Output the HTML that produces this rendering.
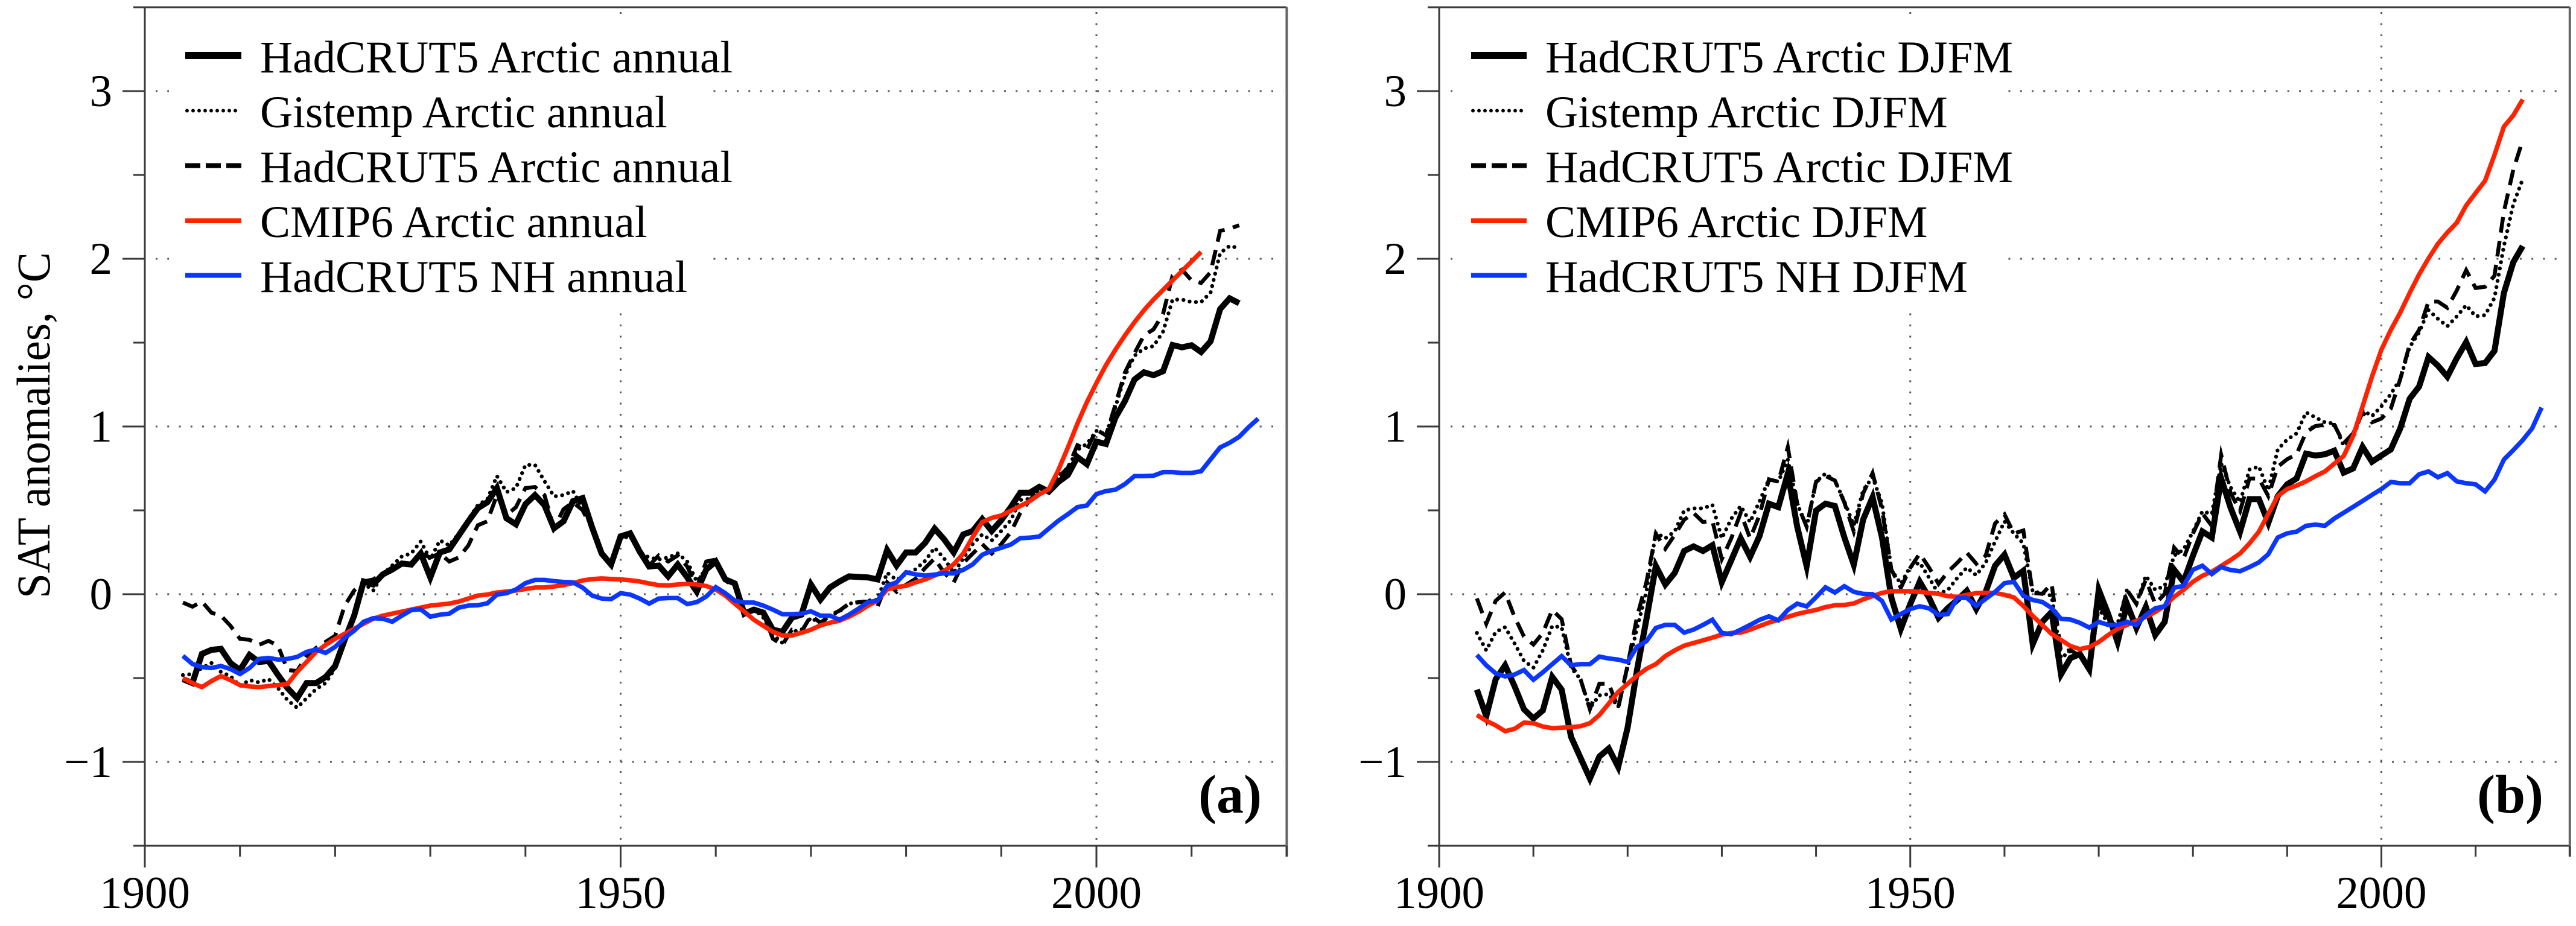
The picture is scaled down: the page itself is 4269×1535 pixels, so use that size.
<!DOCTYPE html>
<html lang="en">
<head>
<meta charset="utf-8">
<title>SAT anomalies chart</title>
<style>
html,body{margin:0;padding:0;background:#fff;}
svg{display:block;}
text{font-family:"Liberation Serif",serif;fill:#000;}
.lg{font-size:75px;}
</style>
</head>
<body>
<svg id="chart" xmlns="http://www.w3.org/2000/svg" width="4269" height="1535" viewBox="0 0 4269 1535">
  <rect x="0" y="0" width="4269" height="1535" fill="#fff"/>
  <g id="panel-a"></g>
  <g id="panel-b"></g>

  <text transform="translate(82,705) rotate(-90)" text-anchor="middle" font-size="78" textLength="574" lengthAdjust="spacingAndGlyphs">SAT anomalies, °C</text>

  <g id="legend-a">
    <rect x="280" y="30" width="898" height="485" fill="#fff"/>
    <line x1="307" x2="400" y1="92" y2="92" stroke="#000" stroke-width="12"/>
    <text class="lg" x="431" y="120">HadCRUT5 Arctic annual</text>
    <line x1="310" x2="400" y1="183.5" y2="183.5" stroke="#000" stroke-width="6" stroke-linecap="round" stroke-dasharray="0 10"/>
    <text class="lg" x="431" y="211">Gistemp Arctic annual</text>
    <line x1="307" x2="400" y1="274.5" y2="274.5" stroke="#000" stroke-width="8" stroke-dasharray="25 9"/>
    <text class="lg" x="431" y="302">HadCRUT5 Arctic annual</text>
    <line x1="307" x2="400" y1="366" y2="366" stroke="#ff2200" stroke-width="8"/>
    <text class="lg" x="431" y="393">CMIP6 Arctic annual</text>
    <line x1="307" x2="400" y1="456.5" y2="456.5" stroke="#0a36ff" stroke-width="8"/>
    <text class="lg" x="431" y="484">HadCRUT5 NH annual</text>
  </g>

  <g id="legend-b">
    <rect x="2412" y="30" width="902" height="485" fill="#fff"/>
    <line x1="2438" x2="2530" y1="92" y2="92" stroke="#000" stroke-width="12"/>
    <text class="lg" x="2561" y="120">HadCRUT5 Arctic DJFM</text>
    <line x1="2441" x2="2530" y1="183.5" y2="183.5" stroke="#000" stroke-width="6" stroke-linecap="round" stroke-dasharray="0 10"/>
    <text class="lg" x="2561" y="211">Gistemp Arctic DJFM</text>
    <line x1="2438" x2="2530" y1="274.5" y2="274.5" stroke="#000" stroke-width="8" stroke-dasharray="25 9"/>
    <text class="lg" x="2561" y="302">HadCRUT5 Arctic DJFM</text>
    <line x1="2438" x2="2530" y1="366" y2="366" stroke="#ff2200" stroke-width="8"/>
    <text class="lg" x="2561" y="393">CMIP6 Arctic DJFM</text>
    <line x1="2438" x2="2530" y1="456.5" y2="456.5" stroke="#0a36ff" stroke-width="8"/>
    <text class="lg" x="2561" y="484">HadCRUT5 NH DJFM</text>
  </g>

  <text x="2091" y="1347" text-anchor="end" font-size="90" font-weight="bold">(a)</text>
  <text x="4215" y="1347" text-anchor="end" font-size="90" font-weight="bold">(b)</text>
</svg>

<script>
const firstYear = 1904;
const yTickLabels = ['\u22121', '0', '1', '2', '3'];
const yMajorValues = [-1, 0, 1, 2, 3];
const yMinorValues = [-1.5, -0.5, 0.5, 1.5, 2.5, 3.5];
const xMajorYears = [1900, 1950, 2000];
const xMinorYears = [1910, 1920, 1930, 1940, 1960, 1970, 1980, 1990, 2010, 2020];

const hadcrutAnnual = [
-.506,-.53,-.356,-.332,-.326,-.41,-.452,-.362,-.404,-.398,-.482,-.56,-.62,-.53,-.53,-.494,-.428,-.272,-.128,.076,.058,.118,.147,.183,.177,.243,.1,.249,.267,.351,.435,.513,.549,.633,.453,.417,.537,.591,.531,
.393,.435,.555,.573,.399,.243,.177,.345,.363,.255,.165,.171,.106,.177,.1,.016,.147,.195,.088,.064,-.116,-.092,-.11,-.212,-.224,-.14,-.122,.058,-.032,.04,.076,.106,.103,.1,.088,
.263,.171,.249,.249,.306,.391,.327,.249,.356,.377,.448,.377,.441,.519,.605,.605,.64,.612,.669,.711,.818,.775,.91,.896,1.053,1.152,1.28,1.323,1.306,1.33,1.486,1.472,1.484,1.444,1.508,1.7,1.764,1.735];
const gistempAnnual = [
-.482,-.476,-.44,-.41,-.464,-.488,-.548,-.512,-.526,-.506,-.56,-.632,-.677,-.62,-.566,-.53,-.44,-.272,-.116,.064,.022,.118,.171,.225,.243,.315,.207,.321,.291,.363,.447,.531,.567,.705,.609,.633,.771,.771,.675,
.583,.591,.615,.513,.399,.249,.183,.333,.345,.249,.219,.207,.219,.243,.195,.076,.153,.201,.076,.058,-.122,-.086,-.14,-.242,-.29,-.224,-.212,-.14,-.176,-.128,-.104,-.056,-.05,-.038,-.032,
.128,.085,.121,.149,.199,.277,.213,.128,.213,.299,.356,.32,.377,.441,.562,.569,.619,.626,.704,.754,.861,.896,.974,.953,1.117,1.302,1.422,1.465,1.479,1.565,1.757,1.757,1.742,1.742,1.799,2.034,2.077,2.063];
const hadcrutDashedAnnual = [
-.05,-.074,-.044,-.11,-.128,-.188,-.266,-.272,-.302,-.278,-.308,-.452,-.458,-.368,-.32,-.284,-.248,-.068,.022,.076,.088,.124,.159,.183,.177,.243,.219,.243,.195,.219,.291,.411,.435,.591,.471,.519,.633,.639,.591,
.393,.507,.549,.501,.393,.243,.177,.339,.357,.261,.171,.231,.195,.231,.165,.04,.195,.207,.094,.064,-.122,-.08,-.116,-.266,-.302,-.212,-.224,-.128,-.17,-.128,-.098,-.056,-.047,-.044,-.074,
.071,.014,.057,.092,.156,.213,.128,.071,.185,.242,.299,.242,.299,.37,.484,.562,.619,.619,.697,.754,.889,.861,.982,.946,1.131,1.323,1.437,1.543,1.579,1.671,1.899,1.935,1.871,1.856,1.92,2.166,2.18,2.2];
const cmip6Annual = [
-.5,-.53,-.554,-.518,-.488,-.512,-.542,-.55,-.554,-.548,-.542,-.536,-.464,-.404,-.344,-.302,-.266,-.236,-.206,-.176,-.146,-.128,-.116,-.104,-.092,-.08,-.068,-.062,-.056,-.044,-.026,-.008,-.002,.01,.016,.022,.031,.04,.04,
.046,.054,.066,.082,.09,.094,.091,.088,.083,.076,.064,.054,.052,.058,.061,.058,.049,.028,-.008,-.056,-.104,-.152,-.188,-.224,-.246,-.246,-.23,-.212,-.186,-.17,-.158,-.134,-.104,-.068,-.038,
.028,.043,.05,.071,.088,.111,.139,.178,.242,.341,.43,.455,.469,.498,.526,.555,.595,.626,.74,.875,1.017,1.145,1.259,1.366,1.458,1.543,1.622,1.693,1.757,1.814,1.871,1.927,1.984,2.041];
const nhAnnual = [
-.368,-.416,-.434,-.44,-.428,-.446,-.476,-.44,-.386,-.38,-.39,-.386,-.374,-.344,-.33,-.35,-.314,-.26,-.218,-.164,-.143,-.146,-.164,-.128,-.095,-.09,-.134,-.122,-.116,-.08,-.068,-.066,-.054,-.002,.006,.028,.066,.085,.085,
.078,.073,.07,.04,-.008,-.026,-.029,.006,-.002,-.026,-.056,-.026,-.023,-.023,-.059,-.047,-.014,.042,.006,-.038,-.05,-.05,-.068,-.092,-.119,-.119,-.116,-.102,-.128,-.128,-.152,-.122,-.086,-.047,-.038,
.05,.071,.131,.118,.111,.117,.125,.124,.145,.178,.235,.259,.277,.296,.334,.337,.344,.391,.438,.477,.519,.529,.597,.615,.623,.657,.704,.704,.707,.728,.728,.723,.723,.733,.804,.875,.903,.939,.996,1.047];

const hadcrutDjfm = [
-.569,-.727,-.507,-.424,-.548,-.686,-.741,-.693,-.493,-.569,-.851,-.975,-1.099,-.968,-.92,-1.03,-.796,-.452,-.149,.168,.058,.127,.258,.285,.258,.292,.072,.202,.333,.223,.347,.54,.519,.719,.402,.168,.499,.54,.526,
.34,.176,.446,.578,.338,-.022,-.207,-.058,.074,-.022,-.141,-.082,-.034,.02,-.088,.014,.17,.236,.098,.14,-.297,-.165,-.106,-.477,-.381,-.357,-.447,.026,-.118,-.285,-.058,-.201,-.076,-.243,-.165,.146,.074,.23,.374,
.338,.69,.514,.373,.567,.567,.426,.585,.655,.69,.838,.827,.834,.856,.725,.75,.878,.79,.827,.863,.988,1.165,1.238,1.414,1.363,1.297,1.407,1.503,1.373,1.378,1.451,1.796,1.98,2.076];
const gistempDjfm = [
-.231,-.335,-.225,-.197,-.293,-.397,-.438,-.335,-.19,-.197,-.438,-.507,-.679,-.603,-.596,-.672,-.438,-.204,.017,.368,.333,.375,.499,.512,.512,.533,.333,.45,.526,.43,.554,.685,.671,.802,.54,.402,.671,.719,.678,
.554,.411,.62,.698,.542,.146,.062,.164,.188,.098,.002,.026,.098,.158,.113,.188,.314,.434,.362,.302,.014,.008,-.01,-.381,-.339,-.369,-.447,-.082,-.177,-.177,.026,-.058,.11,.026,.05,.23,.266,.374,.494,
.479,.778,.637,.549,.743,.761,.62,.863,.922,.959,1.084,1.054,1.025,1.018,.885,.93,1.098,1.062,1.12,1.194,1.282,1.473,1.561,1.694,1.642,1.598,1.657,1.723,1.657,1.664,1.767,2.076,2.325,2.475];
const hadcrutDashedDjfm = [
-.025,-.176,-.039,.01,-.135,-.252,-.3,-.231,-.094,-.149,-.424,-.507,-.686,-.534,-.534,-.679,-.424,-.135,.072,.361,.271,.354,.444,.485,.43,.437,.209,.333,.485,.333,.471,.685,.671,.877,.54,.402,.671,.705,.678,
.548,.374,.602,.722,.506,.146,.038,.158,.242,.158,.062,.134,.188,.248,.182,.23,.422,.476,.362,.38,.008,.002,.062,-.345,-.333,-.369,-.447,-.058,-.153,-.201,.026,-.058,.086,-.058,.002,.278,.212,.362,.482,
.408,.831,.602,.496,.69,.69,.585,.76,.805,.834,.966,1.003,1.01,1.01,.9,.959,1.084,1.025,1.047,1.106,1.282,1.488,1.576,1.745,1.745,1.708,1.811,1.932,1.826,1.833,1.899,2.281,2.531,2.708];
const cmip6Djfm = [
-.72,-.755,-.782,-.817,-.803,-.766,-.769,-.789,-.799,-.796,-.793,-.787,-.769,-.72,-.652,-.583,-.534,-.486,-.445,-.417,-.369,-.335,-.307,-.291,-.275,-.259,-.241,-.231,-.229,-.211,-.19,-.169,-.153,-.135,-.118,-.105,-.094,-.077,-.066,
-.064,-.055,-.031,-.012,.008,.018,.018,.018,.014,.008,.002,-.012,-.016,-.004,.006,.008,.008,-.004,-.019,-.07,-.129,-.183,-.237,-.273,-.309,-.327,-.315,-.285,-.243,-.207,-.183,-.159,-.135,-.106,-.07,-.016,.026,.074,.11,
.134,.169,.204,.243,.303,.373,.479,.585,.627,.648,.673,.704,.732,.778,.824,.944,1.12,1.297,1.458,1.576,1.679,1.796,1.907,2.002,2.09,2.157,2.215,2.318,2.392,2.465,2.619,2.788,2.855,2.95];
const nhDjfm = [
-.362,-.424,-.472,-.49,-.479,-.452,-.51,-.466,-.417,-.369,-.424,-.417,-.417,-.372,-.383,-.39,-.404,-.314,-.28,-.201,-.183,-.183,-.229,-.211,-.183,-.152,-.231,-.238,-.211,-.183,-.153,-.132,-.156,-.094,-.056,-.073,-.018,.041,.01,
.048,.014,.002,0,-.04,-.151,-.118,-.088,-.072,-.084,-.124,-.118,-.022,-.022,-.07,-.028,.014,.066,.074,-.01,-.034,-.046,-.082,-.147,-.151,-.171,-.199,-.165,-.183,-.183,-.165,-.183,-.124,-.084,-.072,.038,.05,.146,.17,
.12,.162,.144,.137,.162,.19,.239,.338,.363,.373,.408,.415,.408,.451,.486,.521,.556,.592,.627,.669,.662,.662,.715,.732,.697,.722,.673,.662,.655,.613,.683,.803,.859,.919,.989,1.113];

const SVGNS = 'http://www.w3.org/2000/svg';
const AXIS = '#3a3a3a';
const yOf = function (v) { return 985 - v * 278; };

function drawPanel(panelId, left, pxPerYear, prefix, grid0, series) {
  const g = document.getElementById(panelId);
  const xOf = function (yr) { return left + (yr - 1900) * pxPerYear; };
  const right = xOf(2020);
  const top = yOf(3.5);
  const bottom = yOf(-1.5);

  function addLine(name, x1, y1, x2, y2, color, width, dash) {
    const el = document.createElementNS(SVGNS, 'line');
    
    
    el.setAttribute('x1', x1);
    el.setAttribute('y1', y1);
    el.setAttribute('x2', x2);
    el.setAttribute('y2', y2);
    el.setAttribute('stroke', color);
    el.setAttribute('stroke-width', width);
    if (dash) el.setAttribute('stroke-dasharray', dash);
    g.appendChild(el);
  }

  yMajorValues.forEach(function (v) {
    addLine('y-gridline', grid0, yOf(v), right - 6, yOf(v), '#555', 3, '3 16.26');
  });
  [1950, 2000].forEach(function (yr) {
    addLine('x-gridline', xOf(yr), 20, xOf(yr), bottom - 6, '#555', 3, '3 15.5');
  });

  addLine('plot-top-border', left - 19, top, right, top, AXIS, 3);
  addLine('x-axis-line', left - 19, bottom, right, bottom, AXIS, 3);
  addLine('y-axis-line', left, top, left, bottom + 36, AXIS, 3);
  addLine('plot-right-border', right, top, right, bottom + 18, '#666', 4);

  yMajorValues.forEach(function (v, i) {
    addLine('y-tick-major', left - 37, yOf(v), left, yOf(v), AXIS, 3);
    const t = document.createElementNS(SVGNS, 'text');
    
    
    t.setAttribute('x', left - 54);
    t.setAttribute('y', yOf(v) + 25);
    t.setAttribute('text-anchor', 'end');
    t.setAttribute('font-size', '75');
    t.textContent = yTickLabels[i];
    g.appendChild(t);
  });
  yMinorValues.forEach(function (v) {
    if (v === 3.5) return;
    addLine('y-tick-minor', left - 19, yOf(v), left, yOf(v), AXIS, 3);
  });
  xMajorYears.forEach(function (yr) {
    addLine('x-tick-major', xOf(yr), bottom, xOf(yr), bottom + 36, AXIS, 3);
    const t = document.createElementNS(SVGNS, 'text');
    
    
    t.setAttribute('x', xOf(yr));
    t.setAttribute('y', 1505);
    t.setAttribute('text-anchor', 'middle');
    t.setAttribute('font-size', '75');
    t.textContent = String(yr);
    g.appendChild(t);
  });
  xMinorYears.forEach(function (yr) {
    addLine('x-tick-minor', xOf(yr), bottom, xOf(yr), bottom + 18, AXIS, 3);
  });

  series.forEach(function (s) {
    const pts = s.values.map(function (v, i) {
      return xOf(firstYear + i).toFixed(1) + ',' + yOf(v).toFixed(1);
    }).join(' ');
    const el = document.createElementNS(SVGNS, 'polyline');
    
    
    el.setAttribute('points', pts);
    el.setAttribute('fill', 'none');
    el.setAttribute('stroke', s.color);
    el.setAttribute('stroke-width', s.width);
    el.setAttribute('stroke-linejoin', s.join);
    el.setAttribute('stroke-miterlimit', '10');
    if (s.dash) el.setAttribute('stroke-dasharray', s.dash);
    if (s.cap) el.setAttribute('stroke-linecap', s.cap);
    g.appendChild(el);
  });
}

function styled(solid, dotted, dashed, red, blue) {
  return [
    { name: 'hadcrut-solid-line', values: solid, color: '#000', width: 10, join: 'miter' },
    { name: 'gistemp-dotted-line', values: dotted, color: '#000', width: 6.5, join: 'round', dash: '0 10.5', cap: 'round' },
    { name: 'hadcrut-dashed-line', values: dashed, color: '#000', width: 6.5, join: 'miter', dash: '26 14' },
    { name: 'cmip6-line', values: red, color: '#ff2200', width: 7.5, join: 'round' },
    { name: 'nh-line', values: blue, color: '#0a36ff', width: 7.5, join: 'miter' }
  ];
}

drawPanel('panel-a', 240, 15.77, 'annual-', 258,
  styled(hadcrutAnnual, gistempAnnual, hadcrutDashedAnnual, cmip6Annual, nhAnnual));
drawPanel('panel-b', 2385, 15.615, 'djfm-', 2404,
  styled(hadcrutDjfm, gistempDjfm, hadcrutDashedDjfm, cmip6Djfm, nhDjfm));
</script>
</body>
</html>
